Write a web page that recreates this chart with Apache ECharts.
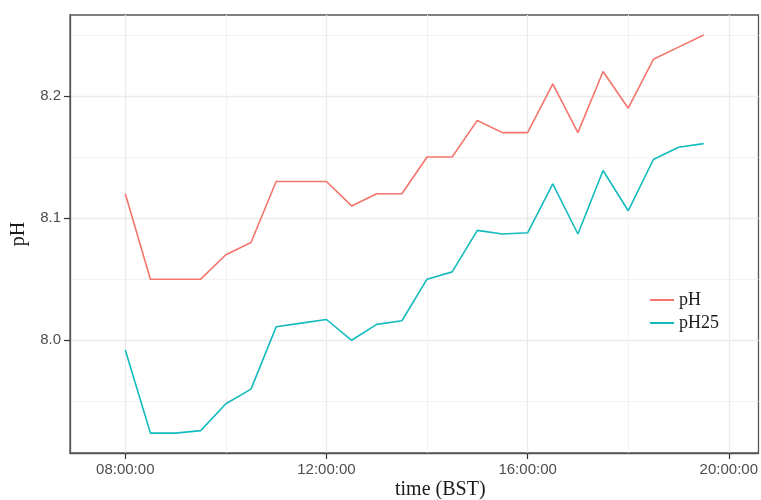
<!DOCTYPE html>
<html>
<head>
<meta charset="utf-8">
<script src="https://cdn.jsdelivr.net/npm/echarts@6/dist/echarts.min.js"></script>
<style>
  html, body { margin: 0; padding: 0; background: #ffffff; }
  #chart { width: 761px; height: 500px; }
</style>
</head>
<body>
<div id="chart"></div>
<script>
// Half-hourly readings, 08:00 to 19:30 (BST)
const times = ['08:00', '08:30', '09:00', '09:30', '10:00', '10:30', '11:00', '11:30',
               '12:00', '12:30', '13:00', '13:30', '14:00', '14:30', '15:00', '15:30',
               '16:00', '16:30', '17:00', '17:30', '18:00', '18:30', '19:00', '19:30'];
const ph   = [8.12, 8.05, 8.05, 8.05, 8.07, 8.08, 8.13, 8.13,
              8.13, 8.11, 8.12, 8.12, 8.15, 8.15, 8.18, 8.17,
              8.17, 8.21, 8.17, 8.22, 8.19, 8.23, 8.24, 8.25];
const ph25 = [7.992, 7.924, 7.924, 7.926, 7.948, 7.960, 8.011, 8.014,
              8.017, 8.000, 8.013, 8.016, 8.050, 8.056, 8.090, 8.087,
              8.088, 8.128, 8.087, 8.139, 8.106, 8.148, 8.158, 8.161];

// Axis ticks
const xTickLabels  = ['08:00:00', '12:00:00', '16:00:00', '20:00:00'];
const xMinorLabels = ['10:00:00', '14:00:00', '18:00:00'];
const yTicks       = [8.0, 8.1, 8.2];
const yMinorTicks  = [7.95, 8.05, 8.15, 8.25];

// "HH:MM[:SS]" -> decimal hours
function toHours(s) {
  const p = s.split(':').map(Number);
  return p[0] + p[1] / 60 + (p[2] || 0) / 3600;
}

const xMajor = xTickLabels.map(toHours);
const xMinor = xMinorLabels.map(toHours);
const X_MIN = 6.901, X_MAX = 20.59;
const Y_MIN = 7.9077, Y_MAX = 8.2663;

const GRID_MAJOR = '#EBEBEB';
const GRID_MINOR = '#F2F2F2';
const AXIS_TEXT = '#4D4D4D';
const FRAME = '#555555';
const RED = '#F3756C';
const TEAL = '#14BBBE';

const chart = echarts.init(document.getElementById('chart'), null, { renderer: 'canvas' });

chart.setOption({
  animation: false,
  backgroundColor: '#ffffff',
  grid: {
    left: 70, right: 2, top: 15, bottom: 47,
    show: true, borderColor: FRAME, borderWidth: 1.3, backgroundColor: 'transparent'
  },
  legend: {
    orient: 'vertical',
    left: 645, top: 286,
    icon: 'rect',
    itemWidth: 24, itemHeight: 2, itemGap: 5,
    textStyle: { fontFamily: 'Liberation Serif', fontSize: 18, color: '#1a1a1a' },
    data: ['pH', 'pH25']
  },
  xAxis: [
    {
      type: 'value', min: X_MIN, max: X_MAX,
      axisLine: { show: true, onZero: false, lineStyle: { color: FRAME, width: 1.3 } },
      axisTick: { show: true, customValues: xMajor, length: 6, lineStyle: { color: '#333333', width: 1.2 } },
      axisLabel: {
        customValues: xMajor, color: AXIS_TEXT, fontSize: 15, margin: 9,
        fontFamily: 'Liberation Sans',
        formatter: v => xTickLabels[xMajor.findIndex(h => Math.abs(h - v) < 1e-6)] || ''
      },
      splitLine: { show: true, lineStyle: { color: GRID_MAJOR, width: 1.3 } }
    },
    {
      type: 'value', min: X_MIN, max: X_MAX, position: 'top',
      axisLine: { show: false },
      axisTick: { show: false, customValues: xMinor },
      axisLabel: { show: false, customValues: xMinor },
      splitLine: { show: true, lineStyle: { color: GRID_MINOR, width: 1 } }
    }
  ],
  yAxis: [
    {
      type: 'value', min: Y_MIN, max: Y_MAX,
      name: 'pH', nameLocation: 'middle', nameGap: 33, nameRotate: 90,
      nameTextStyle: { fontFamily: 'Liberation Serif', fontSize: 20, color: '#1a1a1a' },
      axisLine: { show: true, onZero: false, lineStyle: { color: FRAME, width: 1.3 } },
      axisTick: { show: true, customValues: yTicks, length: 6, lineStyle: { color: '#333333', width: 1.2 } },
      axisLabel: {
        customValues: yTicks, color: AXIS_TEXT, fontSize: 15, margin: 9,
        fontFamily: 'Liberation Sans',
        formatter: v => v.toFixed(1)
      },
      splitLine: { show: true, lineStyle: { color: GRID_MAJOR, width: 1.3 } }
    },
    {
      type: 'value', min: Y_MIN, max: Y_MAX, position: 'right',
      axisLine: { show: false },
      axisTick: { show: false, customValues: yMinorTicks },
      axisLabel: { show: false, customValues: yMinorTicks },
      splitLine: { show: true, lineStyle: { color: GRID_MINOR, width: 1 } }
    }
  ],
  graphic: [
    {
      type: 'text', left: 395, top: 480,
      style: { text: 'time (BST)', fontFamily: 'Liberation Serif', fontSize: 20, fill: '#1a1a1a' }
    }
  ],
  series: [
    {
      name: 'pH', type: 'line', symbol: 'none', xAxisIndex: 0, yAxisIndex: 0,
      lineStyle: { color: RED, width: 1.6 }, itemStyle: { color: RED },
      data: times.map((t, i) => [toHours(t), ph[i]])
    },
    {
      name: 'pH25', type: 'line', symbol: 'none', xAxisIndex: 0, yAxisIndex: 0,
      lineStyle: { color: TEAL, width: 1.6 }, itemStyle: { color: TEAL },
      data: times.map((t, i) => [toHours(t), ph25[i]])
    }
  ]
});
</script>
</body>
</html>
